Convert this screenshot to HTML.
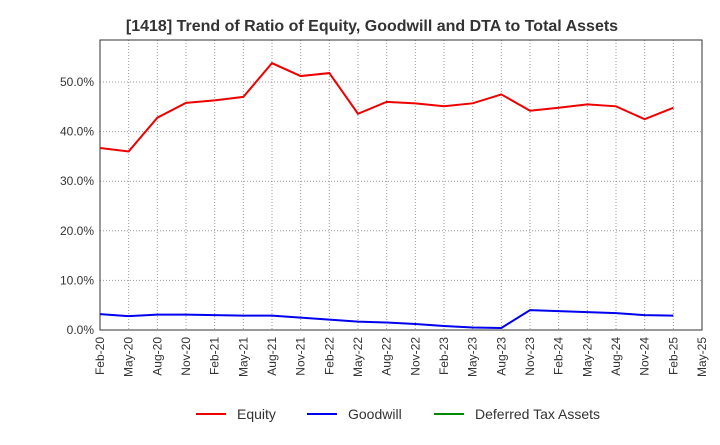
<!DOCTYPE html>
<html><head><meta charset="utf-8"><style>
body{margin:0;background:#fff;font-family:"Liberation Sans",Arial,sans-serif}
</style></head><body>
<svg id="c" width="720" height="440" xmlns="http://www.w3.org/2000/svg">
<text x="372" y="31" text-anchor="middle" font-size="16" font-weight="bold" fill="#333">[1418]  Trend of Ratio of Equity, Goodwill and DTA to Total Assets</text>
<g id="grid"></g><g id="axes"></g><g id="series"></g>
<g>
<g><line x1="196" y1="414" x2="226" y2="414" stroke="#e00" stroke-width="2"/><text x="237" y="419" font-size="14" fill="#333">Equity</text></g>
<g><line x1="307" y1="414" x2="337" y2="414" stroke="#00e" stroke-width="2"/><text x="348" y="419" font-size="14" fill="#333">Goodwill</text></g>
<g><line x1="434" y1="414" x2="464" y2="414" stroke="#080" stroke-width="2"/><text x="475" y="419" font-size="14" fill="#333">Deferred Tax Assets</text></g>
</g>
</svg>
<script>
const categories=["Feb-20","May-20","Aug-20","Nov-20","Feb-21","May-21","Aug-21","Nov-21","Feb-22","May-22","Aug-22","Nov-22","Feb-23","May-23","Aug-23","Nov-23","Feb-24","May-24","Aug-24","Nov-24","Feb-25","May-25"];
const equity=[36.7,36.0,42.8,45.8,46.3,47.0,53.8,51.2,51.8,43.6,46.0,45.7,45.1,45.7,47.5,44.2,44.8,45.5,45.1,42.5,44.8];
const goodwill=[3.2,2.8,3.1,3.1,3.0,2.9,2.9,2.5,2.1,1.7,1.5,1.2,0.8,0.5,0.4,4.0,3.8,3.6,3.4,3.0,2.9];
const yTicks=[0,10,20,30,40,50];
const NS="http://www.w3.org/2000/svg";
const L=100,R=702,T=40,B=330;
const x=i=>L+i*(R-L)/(categories.length-1);
const y=v=>B-v*(B-82)/50;
function mk(t,a,p){const e=document.createElementNS(NS,t);for(const k in a)e.setAttribute(k,a[k]);p.appendChild(e);return e;}
const g=document.getElementById('grid'),ax=document.getElementById('axes'),s=document.getElementById('series');
categories.forEach((c,i)=>{
 const ln=mk('line',{x1:x(i),x2:x(i),y1:T,y2:B,stroke:'#999','stroke-dasharray':'1,2','stroke-width':1},g);
 
 
 const t=mk('text',{x:0,y:0,'font-size':12,fill:'#333','text-anchor':'end',transform:`translate(${x(i)+4},${B+7}) rotate(-90)`},ax);
 t.textContent=c;
 
 
});
yTicks.forEach(v=>{
 const ln=mk('line',{x1:L,x2:R,y1:y(v),y2:y(v),stroke:'#999','stroke-dasharray':'1,2','stroke-width':1},g);
 
 
 const t=mk('text',{x:L-6,y:y(v)+4,'font-size':12,fill:'#333','text-anchor':'end'},ax);
 t.textContent=v.toFixed(1)+'%';
 
 
});
const fr=mk('rect',{x:L,y:T,width:R-L,height:B-T,fill:'none',stroke:'#333','stroke-width':1},ax);


function line(d,col,name){
 const p=mk('polyline',{points:d.map((v,i)=>x(i)+','+y(v)).join(' '),fill:'none',stroke:col,'stroke-width':2},s);
 
 
}
line(equity,'#e00','equity-line');
line(goodwill,'#00e','goodwill-line');
</script>
</body></html>
